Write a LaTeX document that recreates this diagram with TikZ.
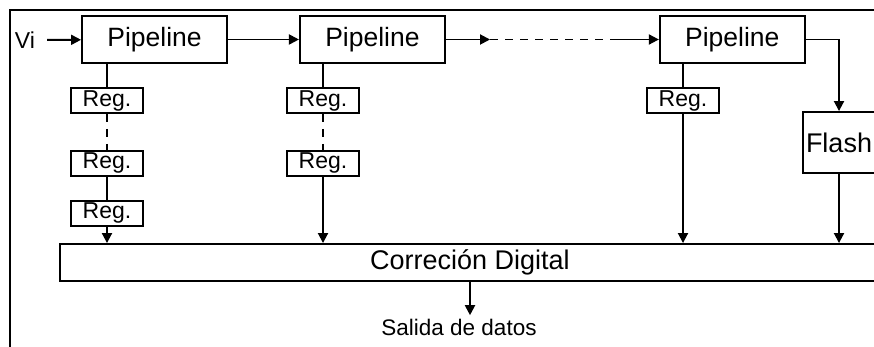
\documentclass[tikz,border=0pt]{standalone}
\usepackage{fontspec}
\setmainfont{Liberation Sans}
\usetikzlibrary{positioning, arrows.meta}

\begin{document}
\begin{tikzpicture}[
    x=1pt, y=-1pt,
    node distance=25pt,
    box/.style={rectangle, draw, line width=1.9pt, inner sep=0pt},
    stage/.style={box, minimum width=145pt, minimum height=47pt, font=\fontsize{26.5}{30}\selectfont},
    reg/.style={box, minimum width=72pt, minimum height=25pt, font=\fontsize{23}{24}\selectfont},
    label/.style={font=\fontsize{23}{26}\selectfont},
    arrow/.style={-{Triangle[length=10pt, width=10pt]}, line width=1.9pt},
    line/.style={line width=1.9pt},
    dashed_line/.style={line width=1.9pt, dash pattern=on 8pt off 7pt},
]

%% FRAME
    \useasboundingbox (0,0) rectangle (874,347);
    \clip (0,0) rectangle (874,347);
    \draw[line width=2pt] (900,10) -- (10,10) -- (10,400);

%% NODES
    % pipeline stages
    \node[stage] (pipe1) at (154.5,39.5) {Pipeline};
    \node[stage, right=71pt of pipe1] (pipe2) {Pipeline};
    \node[stage, right=213pt of pipe2] (pipe3) {Pipeline};
    \node[label, inner sep=4pt] (vi) at (25,40) {Vi};

    \coordinate (gap_a) at (490,39.5);
    \coordinate (gap_b) at (610,39.5);

    % registers
    \node[reg] (reg11) at (107,100.5) {Reg.};
    \node[reg, below=36pt of reg11] (reg12) {Reg.};
    \node[reg, below=23pt of reg12] (reg13) {Reg.};

    \node[reg] (reg21) at (323,100.5) {Reg.};
    \node[reg, below=36pt of reg21] (reg22) {Reg.};

    \node[reg] (reg31) at (683,100.5) {Reg.};

    % flash and correction
    \node[box, minimum width=72pt, minimum height=61pt, font=\fontsize{27}{30}\selectfont] (flash) at (839,142.5) {Flash};
    \node[box, minimum width=820pt, minimum height=37pt, font=\fontsize{27}{30}\selectfont] (corr) at (470,262.5) {Correción Digital};
    \node[label, font=\fontsize{22.5}{26}\selectfont] (out) at (459,327) {Salida de datos};

%% CONNECTORS
    \draw[arrow, shorten <=8pt] (vi) -- (pipe1);
    \draw[arrow] (pipe1) -- (pipe2);
    \draw[arrow] (pipe2) -- (gap_a);
    \draw[dashed_line] (gap_a) -- (gap_b);
    \draw[arrow] (gap_b) -- (pipe3);
    \draw[arrow] (pipe3.east) -| (flash.north);

    \draw[line] (reg11 |- pipe1.south) -- (reg11);
    \draw[dashed_line] (reg11) -- (reg12);
    \draw[line] (reg12) -- (reg13);
    \draw[arrow] (reg13) -- (reg13 |- corr.north);

    \draw[line] (reg21 |- pipe2.south) -- (reg21);
    \draw[dashed_line] (reg21) -- (reg22);
    \draw[arrow] (reg22) -- (reg22 |- corr.north);

    \draw[line] (reg31 |- pipe3.south) -- (reg31);
    \draw[arrow] (reg31) -- (reg31 |- corr.north);

    \draw[arrow] (flash) -- (flash |- corr.north);
    \draw[arrow] (corr.south) -- (corr.south |- out.north);

\end{tikzpicture}
\end{document}
